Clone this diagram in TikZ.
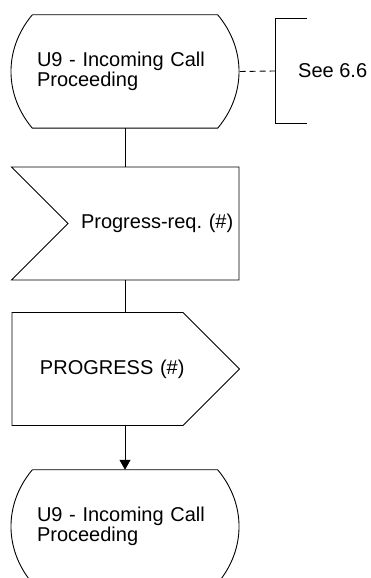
\documentclass[tikz,border=0pt]{standalone}
\usepackage{fontspec}
\setmainfont{Liberation Sans}
\frenchspacing
\usetikzlibrary{arrows.meta,shapes.symbols}
\tikzset{
  ln/.style={line width=0.9pt,black},
  txt/.style={font=\fontsize{20}{18.5}\selectfont},
  state/.style={txt,minimum width=185pt,minimum height=113pt,text width=176pt,align=left,inner sep=0pt},
  sigin/.style={txt,signal,signal to=nowhere,signal from=west,signal pointer angle=90,draw,ln,minimum height=113pt,text width=171pt,align=left,inner sep=0pt},
  sigout/.style={txt,signal,signal to=east,signal pointer angle=90,draw,ln,minimum height=113pt,text width=171pt,align=left,inner sep=0pt},
  cmt/.style={txt,minimum height=105pt,inner xsep=23pt,inner ysep=0pt,anchor=west},
  flow/.style={ln},
  flowa/.style={ln,-{Triangle[length=10pt,width=11pt]}},
  note/.style={ln,dash pattern=on 6pt off 4pt}
}
\newcommand{\stateline}[1]{\draw[ln] (#1.north west) -- (#1.north east) to[bend left=40] (#1.south east) -- (#1.south west) to[bend left=40] (#1.north west);}

\begin{document}
\begin{tikzpicture}[x=1pt,y=1pt]
\clip (0,0) rectangle (371,578);
% states
\node[state] (u9a) at (125,506.5) {U9 - Incoming Call\\Proceeding};
\stateline{u9a}
\node[state] (u9b) at (125,51.5) {U9 - Incoming Call\\Proceeding};
\stateline{u9b}
% input and output
\node[sigin] (preq) at (153.5,354.5) {\hspace*{13pt}Progress-req.~(\#)};
\node[sigout] (prog) at (97.5,209) {\hspace*{28pt}PROGRESS~(\#)};
% comment
\node[cmt] (see) at (275,507) {See 6.6};
\draw[ln] ([xshift=32pt]see.north west) -- (see.north west) -- (see.south west) -- ([xshift=32pt]see.south west);
\draw[note] (u9a.east) ++(22pt,0) -- (see.west);
% flow
\draw[flow] (u9a.south) -- (u9a.south |- preq.north);
\draw[flow] (u9a.south |- preq.south) -- (u9a.south |- prog.north);
\draw[flowa] (u9a.south |- prog.south) -- (u9b.north);
\end{tikzpicture}
\end{document}
